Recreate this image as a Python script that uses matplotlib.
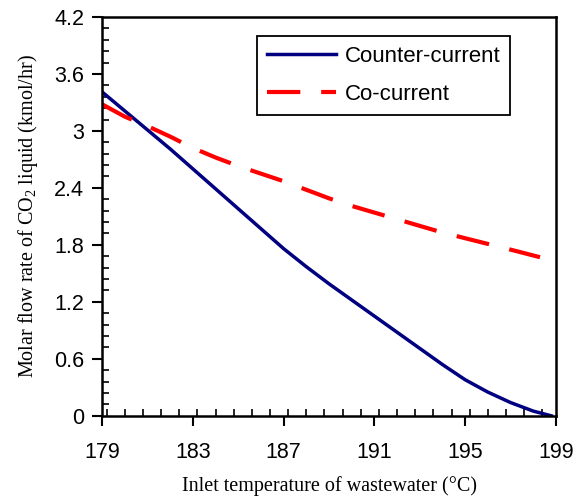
import matplotlib
matplotlib.use("Agg")
import matplotlib.pyplot as plt
from matplotlib.ticker import MultipleLocator

plt.rcParams["mathtext.fontset"] = "custom"
plt.rcParams["mathtext.rm"] = "Liberation Serif"

# inlet temperature (C) and molar flow rate of CO2 liquid (kmol/hr)
t_counter = [179, 180, 181, 182, 183, 184, 185, 186, 187, 188, 189, 190,
             191, 192, 193, 194, 195, 196, 197, 198, 198.8]
counter = [3.41, 3.21, 3.01, 2.81, 2.60, 2.39, 2.18, 1.97, 1.76, 1.57, 1.39, 1.22,
           1.05, 0.88, 0.71, 0.54, 0.38, 0.25, 0.14, 0.05, 0.0]

t_co = [179, 180, 181, 182, 183, 184, 185, 186, 187, 188, 189, 190,
        191, 192, 193, 194, 195, 196, 197, 198.3]
co = [3.28, 3.15, 3.05, 2.94, 2.82, 2.72, 2.63, 2.55, 2.47, 2.38, 2.29, 2.21,
      2.14, 2.07, 2.00, 1.93, 1.87, 1.81, 1.75, 1.67]

x_ticks = [179, 183, 187, 191, 195, 199]
y_ticks = [0, 0.6, 1.2, 1.8, 2.4, 3.0, 3.6, 4.2]
y_labels = ["0", "0.6", "1.2", "1.8", "2.4", "3", "3.6", "4.2"]

fig = plt.figure(figsize=(5.87, 4.98), dpi=100)
ax = fig.add_axes([0.174, 0.165, 0.773, 0.801])

ax.plot(t_counter, counter, color="#000080", lw=2.5, label="Counter-current")
ax.plot(t_co, co, color="#ff0000", lw=3, dashes=(8, 5), label="Co-current")

ax.set_xlim(179, 199)
ax.set_ylim(0, 4.2)
ax.set_xticks(x_ticks)
ax.set_yticks(y_ticks)
ax.set_yticklabels(y_labels)
ax.xaxis.set_minor_locator(MultipleLocator(0.8))
ax.yaxis.set_minor_locator(MultipleLocator(0.12))

for lab in ax.get_xticklabels() + ax.get_yticklabels():
    lab.set_family("Liberation Sans")
    lab.set_fontsize(15.5)

ax.tick_params(which="major", direction="out", length=7, width=1.5, top=False, right=False)
ax.tick_params(which="minor", direction="in", length=5, width=1.2, top=False, right=False)
ax.tick_params(axis="x", which="major", pad=12)
ax.tick_params(axis="y", which="major", pad=6)
for s in ax.spines.values():
    s.set_linewidth(1.8)

ax.set_xlabel("Inlet temperature of wastewater (°C)", family="Liberation Serif",
              fontsize=14.5, labelpad=9)
ax.set_ylabel("Molar flow rate of CO$_2$ liquid (kmol/hr)", family="Liberation Serif",
              fontsize=14.5, labelpad=10)

leg = ax.legend(loc="upper left", bbox_to_anchor=(0.341, 0.952), borderaxespad=0,
                fancybox=False, framealpha=1, edgecolor="black", handlelength=3.1,
                handletextpad=0.4, borderpad=0.45, labelspacing=0.75,
                prop={"family": "Liberation Sans", "size": 16})
leg.get_frame().set_linewidth(1.3)

fig.savefig("out.png", dpi=100)
